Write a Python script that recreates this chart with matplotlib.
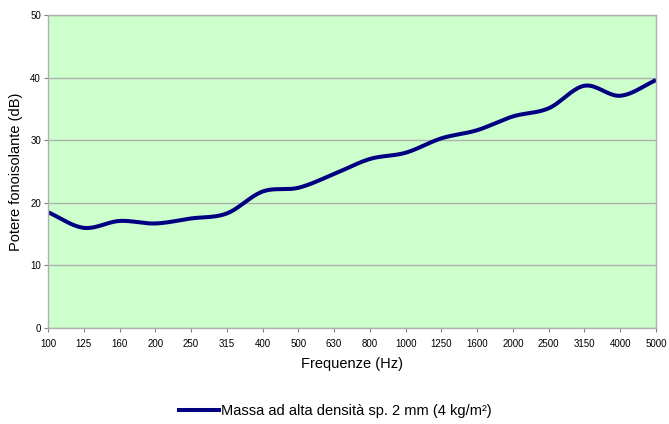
import numpy as np
import matplotlib
matplotlib.use("Agg")
import matplotlib.pyplot as plt

plt.rcParams['font.family'] = ['Liberation Sans', 'DejaVu Sans']

freqs = ['100', '125', '160', '200', '250', '315', '400', '500', '630', '800',
         '1000', '1250', '1600', '2000', '2500', '3150', '4000', '5000']
values = [18.5, 16.0, 17.1, 16.7, 17.5, 18.3, 21.8, 22.4, 24.6, 27.0,
          28.0, 30.3, 31.6, 33.8, 35.1, 38.7, 37.1, 39.6]
series_name = 'Massa ad alta densità sp. 2 mm (4 kg/m²)'


def smooth(x, y, n=20):
    # catmull-rom curve through the points, like a smoothed line
    x = np.asarray(x, float)
    y = np.asarray(y, float)
    px = np.concatenate([[2 * x[0] - x[1]], x, [2 * x[-1] - x[-2]]])
    py = np.concatenate([[2 * y[0] - y[1]], y, [2 * y[-1] - y[-2]]])
    xs, ys = [], []
    t = np.linspace(0, 1, n, endpoint=False)
    for i in range(1, len(px) - 2):
        for p, out in ((px, xs), (py, ys)):
            p0, p1, p2, p3 = p[i - 1], p[i], p[i + 1], p[i + 2]
            out.extend(0.5 * ((2 * p1) + (-p0 + p2) * t
                              + (2 * p0 - 5 * p1 + 4 * p2 - p3) * t ** 2
                              + (-p0 + 3 * p1 - 3 * p2 + p3) * t ** 3))
    xs.append(x[-1])
    ys.append(y[-1])
    return np.array(xs), np.array(ys)


fig = plt.figure(figsize=(6.69, 4.24), dpi=100)
ax = fig.add_axes([48 / 669, 96 / 424, 608 / 669, 313 / 424])
ax.set_facecolor('#CCFFCC')

pos = np.arange(len(freqs))
sx, sy = smooth(pos, values)
ax.plot(sx, sy, color='#000080', lw=2.9, solid_capstyle='butt', label=series_name)

ax.set_xlim(0, len(freqs) - 1)
ax.set_ylim(0, 50)
ax.set_xticks(pos)
ax.set_xticklabels(freqs, fontsize=7)
ax.set_yticks(range(0, 51, 10))
ax.tick_params(axis='y', labelsize=7, length=3, color='#808080', pad=2)
ax.tick_params(axis='x', length=3, color='#808080', pad=5)
ax.grid(axis='y', color='#B0B0B0', lw=1)
ax.set_axisbelow(True)
for s in ax.spines.values():
    s.set_color('#B0B0B0')
    s.set_linewidth(1)

ax.set_xlabel('Frequenze (Hz)', fontsize=10.5, labelpad=6)
ax.set_ylabel('Potere fonoisolante (dB)', fontsize=10.5, labelpad=5)

fig.legend(loc='center', bbox_to_anchor=(0.5, 1 - 411 / 424), frameon=False,
           fontsize=10.5, handlelength=3.0, handletextpad=0.05)

fig.savefig('out.png', dpi=100)
